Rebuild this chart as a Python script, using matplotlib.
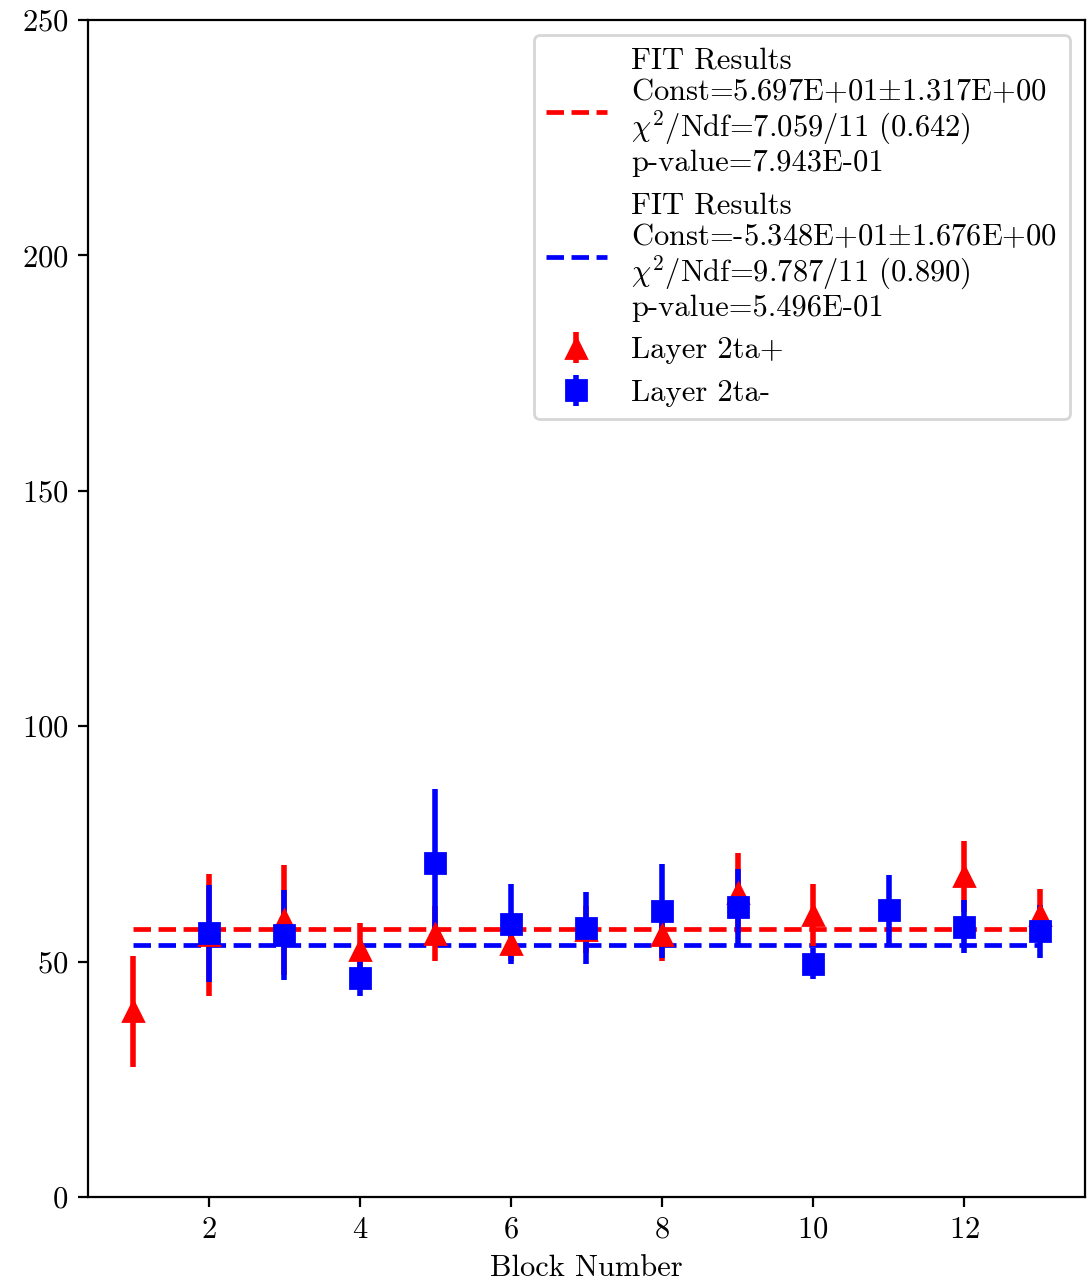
import matplotlib
matplotlib.use('Agg')
import matplotlib.pyplot as plt
import numpy as np

plt.rcParams['font.family'] = 'serif'
plt.rcParams['font.serif'] = ['cmr10']
plt.rcParams['mathtext.fontset'] = 'cm'
plt.rcParams['axes.formatter.use_mathtext'] = True
plt.rcParams['axes.unicode_minus'] = False
plt.rcParams['font.size'] = 11

# Layer 2ta+ (no point at block 11)
blocks_plus = [1, 2, 3, 4, 5, 6, 7, 8, 9, 10, 12, 13]
vals_plus = [39.4, 55.6, 58.9, 52.4, 55.9, 53.7, 56.8, 55.7, 64.6, 59.9, 68.1, 59.9]
errs_plus = [11.8, 13.0, 11.7, 5.8, 5.8, 3.5, 5.0, 5.5, 8.5, 6.5, 7.6, 5.5]

# Layer 2ta- (no point at block 1)
blocks_minus = [2, 3, 4, 5, 6, 7, 8, 9, 10, 11, 12, 13]
vals_minus = [56.0, 55.7, 46.6, 70.9, 58.0, 57.1, 60.8, 61.6, 49.5, 61.0, 57.4, 56.4]
errs_minus = [10.3, 9.6, 3.9, 15.7, 8.5, 7.7, 10.0, 8.1, 3.3, 7.4, 5.6, 5.6]

fit_range = [1, 13]
const_plus = 56.97
const_minus = 53.48

label_fit_plus = ("FIT Results\nConst=5.697E+01$\\pm$1.317E+00\n"
                  "$\\chi^2$/Ndf=7.059/11 (0.642)\np-value=7.943E-01")
label_fit_minus = ("FIT Results\nConst=-5.348E+01$\\pm$1.676E+00\n"
                   "$\\chi^2$/Ndf=9.787/11 (0.890)\np-value=5.496E-01")

fig = plt.figure(figsize=(5.44, 6.42), dpi=200)
ax = fig.add_axes([0.0809, 0.0678, 0.9163, 0.9166])

ax.plot(fit_range, [const_plus, const_plus], '--', color='red', lw=1.7,
        label=label_fit_plus)
ax.plot(fit_range, [const_minus, const_minus], '--', color='blue', lw=1.7,
        label=label_fit_minus)

ax.errorbar(blocks_plus, vals_plus, yerr=errs_plus, fmt='^', color='red',
            ms=7, elinewidth=2, capsize=0, label='Layer 2ta+')
ax.errorbar(blocks_minus, vals_minus, yerr=errs_minus, fmt='s', color='blue',
            ms=7, elinewidth=2, capsize=0, label='Layer 2ta-')

ax.set_ylim(0, 250)
ax.set_xlim(0.4, 13.6)
ax.set_xticks([2, 4, 6, 8, 10, 12])
ax.set_xlabel('Block Number')

leg = ax.legend(loc='upper right')
for t in leg.get_texts():
    t.set_linespacing(1.1)

fig.savefig('out.png', dpi=200)
